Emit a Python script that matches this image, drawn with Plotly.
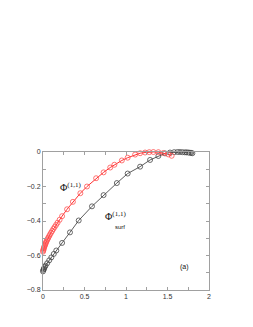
import plotly.graph_objects as go

# red curve: Phi^(1,1)
kappa_red = [0.0, 0.003, 0.006, 0.01, 0.014, 0.018, 0.023, 0.028, 0.034, 0.04, 0.047, 0.055, 0.064,
             0.074, 0.085, 0.097, 0.11, 0.125, 0.14, 0.157, 0.175, 0.2, 0.23, 0.29, 0.36, 0.45, 0.53,
             0.64, 0.73, 0.81, 0.86, 0.95, 1.02, 1.11, 1.17, 1.23, 1.28, 1.33, 1.39, 1.45, 1.51, 1.55]
phi_red = [-0.578, -0.571, -0.565, -0.558, -0.552, -0.546, -0.54, -0.534, -0.527, -0.52, -0.513,
           -0.505, -0.497, -0.488, -0.478, -0.468, -0.458, -0.446, -0.435, -0.423, -0.41, -0.393,
           -0.372, -0.332, -0.289, -0.239, -0.2, -0.152, -0.118, -0.09, -0.074, -0.049, -0.033,
           -0.015, -0.007, -0.003, -0.001, 0.0, -0.001, -0.006, -0.014, -0.022]

# black curve: Phi_surf^(1,1)
kappa_blk = [0.0, 0.004, 0.008, 0.012, 0.02, 0.03, 0.05, 0.075, 0.1, 0.13, 0.16, 0.23, 0.325, 0.43,
             0.59, 0.73, 0.89, 1.02, 1.17, 1.29, 1.39, 1.47, 1.53, 1.58, 1.62, 1.65, 1.68, 1.71, 1.73,
             1.75, 1.77, 1.785, 1.8]
phi_blk = [-0.692, -0.686, -0.68, -0.675, -0.667, -0.659, -0.645, -0.628, -0.611, -0.591, -0.571,
           -0.527, -0.466, -0.397, -0.315, -0.25, -0.18, -0.125, -0.085, -0.046, -0.023, -0.008,
           -0.003, -0.001, 0.0, 0.0, -0.001, -0.002, -0.002, -0.003, -0.004, -0.005, -0.007]

x_major = [0, 0.5, 1, 1.5, 2]
x_labels = ["0", "0.5", "1", "1.5", "2"]
y_major = [0, -0.2, -0.4, -0.6, -0.8]
y_labels = ["0", "\u22120.2", "\u22120.4", "\u22120.6", "\u22120.8"]

fig = go.Figure()
fig.add_trace(go.Scatter(x=kappa_blk, y=phi_blk, mode="lines+markers", cliponaxis=False,
                         line=dict(color="#333333", width=0.8),
                         marker=dict(symbol="circle-open", size=5, color="#444444", line=dict(width=0.8))))
fig.add_trace(go.Scatter(x=kappa_red, y=phi_red, mode="lines+markers", cliponaxis=False,
                         line=dict(color="#ff3030", width=1),
                         marker=dict(symbol="circle-open", size=5, color="#ff5050", line=dict(width=0.8))))

axis_common = dict(showgrid=False, zeroline=False, showline=True, linecolor="#a0a0a0", linewidth=1,
                   mirror="ticks", ticks="inside", ticklen=3, tickcolor="#a0a0a0",
                   tickfont=dict(family="Liberation Sans, Arial", size=7, color="#333333"))
fig.update_xaxes(range=[0, 2], tickvals=x_major, ticktext=x_labels,
                 minor=dict(dtick=0.25, tick0=0, ticks="inside", ticklen=3, tickcolor="#a0a0a0"),
                 **axis_common)
fig.update_yaxes(range=[-0.8, 0], tickvals=y_major, ticktext=y_labels,
                 minor=dict(dtick=0.1, tick0=0, ticks="inside", ticklen=3, tickcolor="#a0a0a0"),
                 **axis_common)

fnt = dict(family="Liberation Serif, Times New Roman", size=10, color="#111111")
fig.add_annotation(x=0.33, y=-0.205, xref="x", yref="y", showarrow=False,
                   text="\u03a6<sup>(1,1)</sup>", font=fnt)
fig.add_annotation(x=0.87, y=-0.37, xref="x", yref="y", showarrow=False,
                   text="\u03a6<sup>(1,1)</sup>", font=fnt)
fig.add_annotation(x=0.93, y=-0.437, xref="x", yref="y", showarrow=False,
                   text="surf", font=dict(family="Liberation Sans, Arial", size=6, color="#111111"))
fig.add_annotation(x=1.7, y=-0.667, xref="x", yref="y", showarrow=False,
                   text="(a)", font=dict(family="Liberation Sans, Arial", size=7, color="#111111"))
fig.add_annotation(x=1.87, y=-0.86, xref="x", yref="y", showarrow=False,
                   text="\u03ba", font=dict(family="Liberation Sans, Arial", size=8, color="#111111"))

fig.update_layout(width=253, height=327, margin=dict(l=43, r=44, t=152, b=37),
                  paper_bgcolor="white", plot_bgcolor="white", showlegend=False)
fig.write_html("out.html", config={"displayModeBar": False},
               post_script="document.body.style.margin='0px';document.body.style.overflow='hidden';")
